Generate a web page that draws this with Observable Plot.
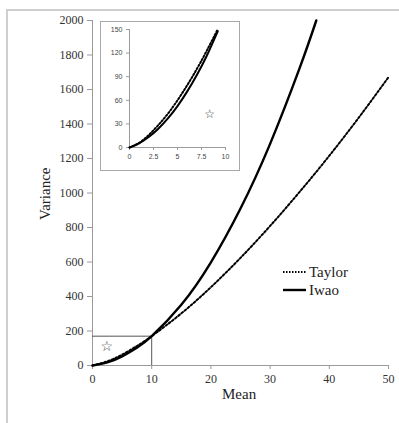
<!DOCTYPE html>
<html>
<head>
<meta charset="utf-8">
<script src="https://cdn.jsdelivr.net/npm/d3@7"></script>
<script src="https://cdn.jsdelivr.net/npm/@observablehq/plot@0.6"></script>
<style>
  html, body { margin: 0; padding: 0; background: #fff; }
  #wrap { position: relative; width: 399px; height: 423px; overflow: hidden; background: #fff; }
  #frame { position: absolute; left: 6px; top: 9px; width: 400px; height: 420px; border-left: 2px solid #cfcfcf; border-top: 2px solid #cfcfcf; }
  #main { position: absolute; left: 0; top: 0; }
  #main svg, #main svg text { font-family: "Liberation Serif", "Times New Roman", serif !important; }
  #inset svg, #inset svg text { font-family: "Liberation Sans", Arial, sans-serif !important; }
  #main svg text.star, #inset svg text.star { font-family: "DejaVu Sans", sans-serif !important; }
  #inset { position: absolute; left: 100px; top: 21px; background: #fff; }
  #insetBorder { position: absolute; left: 100px; top: 21px; width: 140px; height: 150px; box-sizing: border-box; border: 1px solid #a8a8a8; pointer-events: none; }
  .lab { position: absolute; font-family: "Liberation Serif", "Times New Roman", serif !important; font-size: 15px; color: #222; white-space: nowrap; }
  #legend { position: absolute; left: 283px; top: 263px; font-family: "Liberation Serif", "Times New Roman", serif !important; font-size: 15px; color: #222; }
  #legend span { font-family: "Liberation Serif", "Times New Roman", serif !important; }
  #legend div { height: 18px; display: flex; align-items: center; }
  #legend svg { margin-right: 2px; }
</style>
</head>
<body>
<div id="wrap">
  <div id="frame"></div>
  <div id="main"></div>
  <div id="inset"></div>
  <div id="insetBorder"></div>
  <div class="lab" id="xlab" style="left:222px; top:386px;">Mean</div>
  <div class="lab" id="ylab" style="left:18px; top:183px; transform: rotate(-90deg); transform-origin: 28px 9px;">Variance</div>
  <div id="legend"></div>
</div>
<script>
// ---- data ----
const seriesNames = ["Taylor", "Iwao"];

const taylorMean = [0, 2.5, 5, 7.5, 10, 15, 20, 25, 30, 35, 40, 45, 50];
const taylorVar  = [0, 24, 63, 113, 170, 302, 454, 624, 809, 1007, 1216, 1438, 1671];

const iwaoMean = [0, 2.5, 5, 7.5, 10, 15, 20, 25, 30, 35, 37.8];
const iwaoVar  = [0, 18, 53, 103, 170, 352, 598, 910, 1285, 1725, 2000];

// inset (zoom on 0–10)
const insetMean      = [0, 1, 2, 3, 4, 5, 6, 7, 8, 9.2];
const insetTaylorVar = [0, 5.8, 15.8, 28.5, 43, 60, 79, 99.5, 122, 150.5];
const insetIwaoVar   = [0, 5.4, 13.3, 23.9, 37, 52.7, 71, 91.9, 115.3, 148];

// reference lines at mean = 10
const refMean = 10;
const refVar = 170;

// star markers
const starMain  = {mean: 2.4, variance: 112};
const starInset = {mean: 8.35, variance: 43};

// tick labels
const xTicks = [0, 10, 20, 30, 40, 50];
const yTicks = [0, 200, 400, 600, 800, 1000, 1200, 1400, 1600, 1800, 2000];
const insetXTicks = [0, 2.5, 5, 7.5, 10];
const insetYTicks = [0, 30, 60, 90, 120, 150];

// ---- build tables ----
const taylor = taylorMean.map((m, i) => ({mean: m, variance: taylorVar[i]}));
const iwao = iwaoMean.map((m, i) => ({mean: m, variance: iwaoVar[i]}));
const insetTaylor = insetMean.map((m, i) => ({mean: m, variance: insetTaylorVar[i]}));
const insetIwao = insetMean.map((m, i) => ({mean: m, variance: insetIwaoVar[i]}));

const dotted = "2 2";
const axisGray = "#9a9a9a";

const main = Plot.plot({
  width: 399,
  height: 423,
  marginLeft: 92,
  marginRight: 11,
  marginTop: 20,
  marginBottom: 58,
  style: {fontSize: "12px", color: "#333", background: "transparent"},
  x: {domain: [0, 50]},
  y: {domain: [0, 2000]},
  marks: [
    Plot.ruleY([0], {stroke: axisGray, strokeWidth: 1}),
    Plot.ruleX([0], {stroke: axisGray, strokeWidth: 1}),
    Plot.axisX({ticks: xTicks, tickSize: 4, tickPadding: 5, stroke: axisGray, fill: "#333", fontSize: 12, label: null, tickFormat: d => String(d)}),
    Plot.axisY({ticks: yTicks, tickSize: 5, tickPadding: 4, stroke: axisGray, fill: "#333", fontSize: 12, label: null, tickFormat: d => String(d)}),
    Plot.ruleY([refVar], {x1: 0, x2: refMean, stroke: "#555", strokeWidth: 1}),
    Plot.ruleX([refMean], {y1: 0, y2: refVar, stroke: "#555", strokeWidth: 1}),
    Plot.line(taylor, {x: "mean", y: "variance", curve: "natural", stroke: "#000", strokeWidth: 2, strokeDasharray: dotted}),
    Plot.line(iwao, {x: "mean", y: "variance", curve: "natural", stroke: "#000", strokeWidth: 2.4}),
    Plot.text([starMain], {x: "mean", y: "variance", text: () => "☆", fontSize: 14, fill: "#444"})
  ]
});
document.getElementById("main").appendChild(main);

const inset = Plot.plot({
  width: 140,
  height: 150,
  marginLeft: 29,
  marginRight: 15,
  marginTop: 8,
  marginBottom: 24,
  style: {fontSize: "7px", color: "#444", background: "#fff"},
  x: {domain: [0, 10]},
  y: {domain: [0, 150]},
  marks: [
    Plot.ruleY([0], {stroke: axisGray, strokeWidth: 1}),
    Plot.ruleX([0], {stroke: axisGray, strokeWidth: 1}),
    Plot.axisX({ticks: insetXTicks, tickSize: 3, tickPadding: 4, stroke: axisGray, fill: "#444", fontSize: 7, label: null, tickFormat: d => String(d)}),
    Plot.axisY({ticks: insetYTicks, tickSize: 3, tickPadding: 4, stroke: axisGray, fill: "#444", fontSize: 7, label: null, tickFormat: d => String(d)}),
    Plot.line(insetTaylor, {x: "mean", y: "variance", curve: "natural", stroke: "#000", strokeWidth: 2, strokeDasharray: "1.5 2"}),
    Plot.line(insetIwao, {x: "mean", y: "variance", curve: "natural", stroke: "#000", strokeWidth: 2}),
    Plot.text([starInset], {x: "mean", y: "variance", text: () => "☆", fontSize: 12, fill: "#444"})
  ]
});
document.getElementById("inset").appendChild(inset);

// star glyphs use DejaVu Sans
document.querySelectorAll("svg text").forEach(t => {
  if (t.textContent === "☆") t.classList.add("star");
});

// legend
const legend = document.getElementById("legend");
seriesNames.forEach((name, i) => {
  const row = document.createElement("div");
  const dash = i === 0 ? `stroke-dasharray="1.5 1.5" stroke-width="1.8"` : `stroke-width="2.4"`;
  row.innerHTML = `<svg width="24" height="10"><line x1="0" x2="23" y1="5" y2="5" stroke="#000" ${dash}/></svg><span>${name}</span>`;
  legend.appendChild(row);
});
</script>
</body>
</html>
